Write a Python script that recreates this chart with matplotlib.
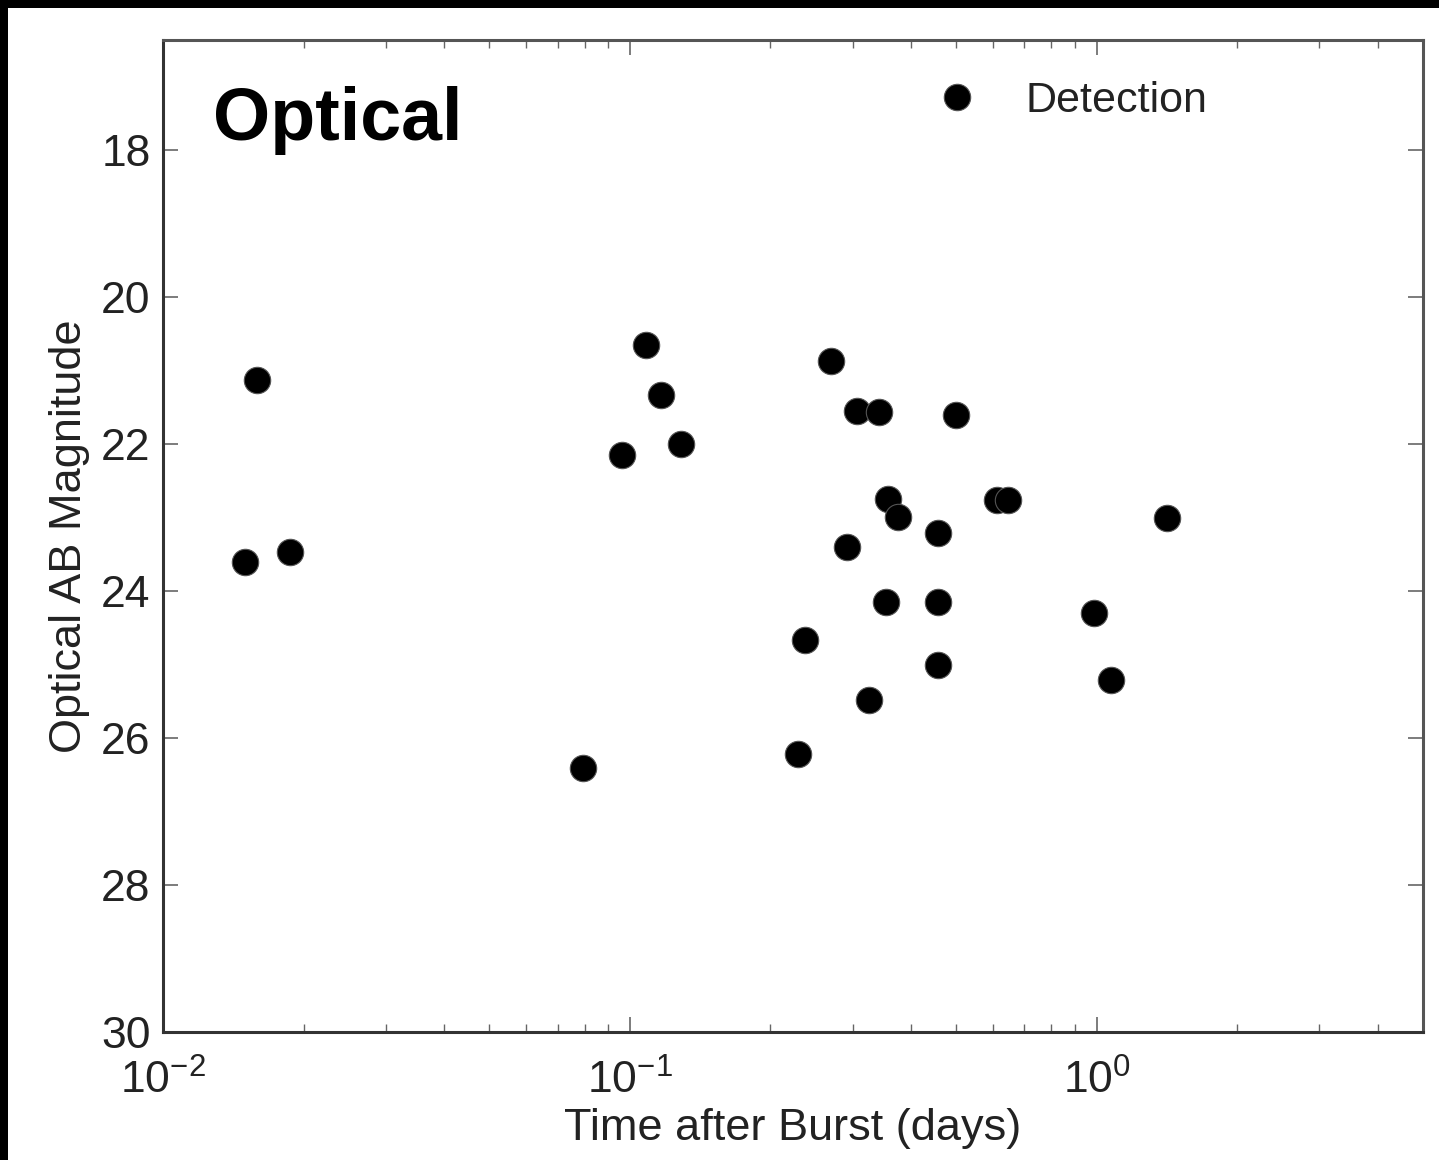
import matplotlib
matplotlib.use("Agg")
import matplotlib.pyplot as plt
from matplotlib.patches import Rectangle
from matplotlib.ticker import LogLocator, NullFormatter

plt.rcParams['font.family'] = ['Liberation Sans', 'DejaVu Sans']
plt.rcParams['mathtext.fontset'] = 'custom'
plt.rcParams['mathtext.rm'] = 'Liberation Sans'
plt.rcParams['mathtext.it'] = 'Liberation Sans'
plt.rcParams['mathtext.default'] = 'regular'

# Data (time after burst in days, optical AB magnitude)
time_days = [0.0159, 0.0150, 0.0187, 0.0793, 0.0961, 0.1082, 0.1165, 0.1286,
             0.2694, 0.306, 0.3413, 0.4988, 0.3568, 0.375, 0.2914, 0.4565,
             0.6107, 0.645, 1.412, 0.3533, 0.4565, 0.2369, 0.4565, 0.9853,
             1.072, 0.3249, 0.229]
magnitude = [21.13, 23.61, 23.47, 26.41, 22.15, 20.65, 21.33, 22.0,
             20.87, 21.55, 21.56, 21.61, 22.75, 22.99, 23.40, 23.21,
             22.76, 22.76, 23.01, 24.15, 24.15, 24.67, 25.01, 24.30,
             25.21, 25.48, 26.22]
yticks = [18, 20, 22, 24, 26, 28, 30]
series_label = "Detection"
panel_label = "Optical"
xlabel = "Time after Burst (days)"
ylabel = "Optical AB Magnitude"

W, H = 1439, 1160
fig = plt.figure(figsize=(W / 100, H / 100), dpi=100)
fig.patch.set_facecolor('white')
ax = fig.add_axes([163 / W, 1 - 1032 / H, (1423 - 163) / W, (1032 - 40) / H])

ax.plot(time_days, magnitude, 'o', color='black', ms=19, mec='#555555',
        mew=0.8, label=series_label, linestyle='none')

ax.set_xscale('log')
ax.set_xlim(0.01, 5.0)
ax.set_ylim(30, 16.5)
ax.set_yticks(yticks)
ax.xaxis.set_major_locator(LogLocator(base=10, numticks=10))
ax.xaxis.set_minor_locator(LogLocator(base=10, subs=range(2, 10), numticks=10))
ax.xaxis.set_minor_formatter(NullFormatter())

ax.tick_params(axis='both', which='major', direction='in', length=11, width=1.2,
               color='#666666', top=True, right=True, labelsize=32,
               labelcolor='#222222')
ax.tick_params(axis='x', which='major', pad=20)
ax.tick_params(axis='y', which='major', pad=9)
ax.tick_params(axis='x', which='minor', direction='in', length=6, width=1.0,
               color='#666666', top=True, bottom=True)
for s in ax.spines.values():
    s.set_linewidth(2.2)
    s.set_color('#555555')
ax.spines['left'].set_color('#333333')
ax.spines['bottom'].set_color('#333333')

ax.set_xlabel(xlabel, fontsize=32.5, color='#222222', labelpad=4)
ax.set_ylabel(ylabel, fontsize=32.5, color='#222222', labelpad=8)

fig.text(213 / W, 1 - 140 / H, panel_label, fontsize=53, fontweight='bold',
         color='black', ha='left', va='baseline')

leg = ax.legend(loc='center left', bbox_to_anchor=(935.5 / W, 1 - 101 / H),
                bbox_transform=fig.transFigure, frameon=False, fontsize=31,
                numpoints=1, handlelength=1.0, handletextpad=1.08,
                borderpad=0, borderaxespad=0)
for t in leg.get_texts():
    t.set_color('#222222')

# black frame strips at top and left
fig.add_artist(Rectangle((0, 1 - 7.5 / H), 1, 7.5 / H, transform=fig.transFigure,
                         facecolor='black', edgecolor='none'))
fig.add_artist(Rectangle((0, 0), 8 / W, 1, transform=fig.transFigure,
                         facecolor='black', edgecolor='none'))

fig.savefig('out.png', dpi=100, facecolor='white')
